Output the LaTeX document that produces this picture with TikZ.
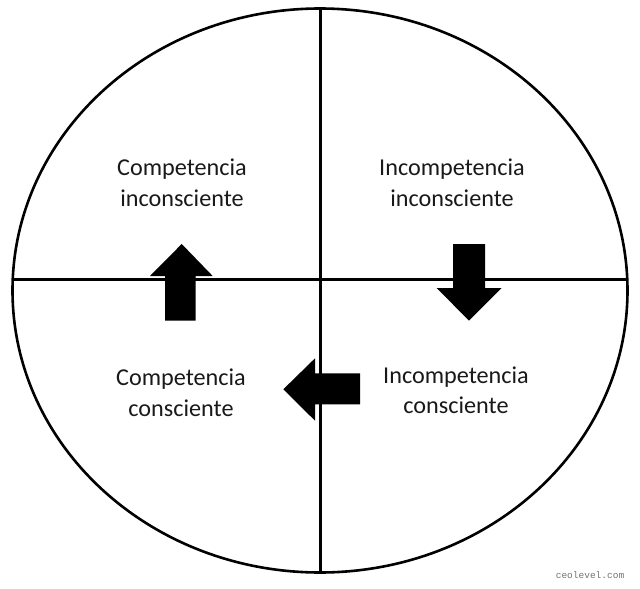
\documentclass[tikz,border=0pt]{standalone}
\usepackage{fontspec}
\setmainfont{Carlito}
\newfontfamily\wmfont{Liberation Mono}
\begin{document}
\begin{tikzpicture}[x=1pt,y=-1pt,
  label/.style={align=center,font=\fontsize{24.2}{30.5}\selectfont,text=black!90,inner sep=0pt},
  bigarrow/.style={fill=black,draw=none},
  axis/.style={line width=3pt,black}]
\useasboundingbox (0,0) rectangle (640,589);
\draw[line width=2.6pt] (320,290.5) ellipse [x radius=307.5pt, y radius=282pt];
\coordinate (top) at (320.5,8);
\coordinate (bottom) at (320.5,572);
\coordinate (left) at (12.5,279);
\coordinate (right) at (627.5,279);
\draw[axis] (top) -- (bottom);
\draw[axis] (left) -- (right);
% up arrow
\fill[bigarrow] (165,320.7) -- (165,276) -- (150,276) -- (181.7,244) -- (212.7,276) -- (195.7,276) -- (195.7,320.7) -- cycle;
% down arrow
\fill[bigarrow] (453,244) -- (485,244) -- (485,288) -- (501.7,288) -- (469,320.7) -- (436.7,288) -- (453,288) -- cycle;
% left arrow
\fill[bigarrow] (360,373.3) -- (360,404.3) -- (315,404.3) -- (315,420.7) -- (283.3,389.3) -- (315,358.3) -- (315,373.3) -- cycle;
\node[label] (ci) at (182,183) {Competencia\\inconsciente};
\node[label] (ii) at (452,183) {Incompetencia\\inconsciente};
\node[label] (cc) at (181,393) {Competencia\\consciente};
\node[label] (ic) at (456,390.5) {Incompetencia\\consciente};
\node[font=\wmfont\fontsize{9.5}{10}\selectfont,text=black!55,inner sep=0pt] (wm) at (590,575) {ceolevel.com};
\end{tikzpicture}
\end{document}
